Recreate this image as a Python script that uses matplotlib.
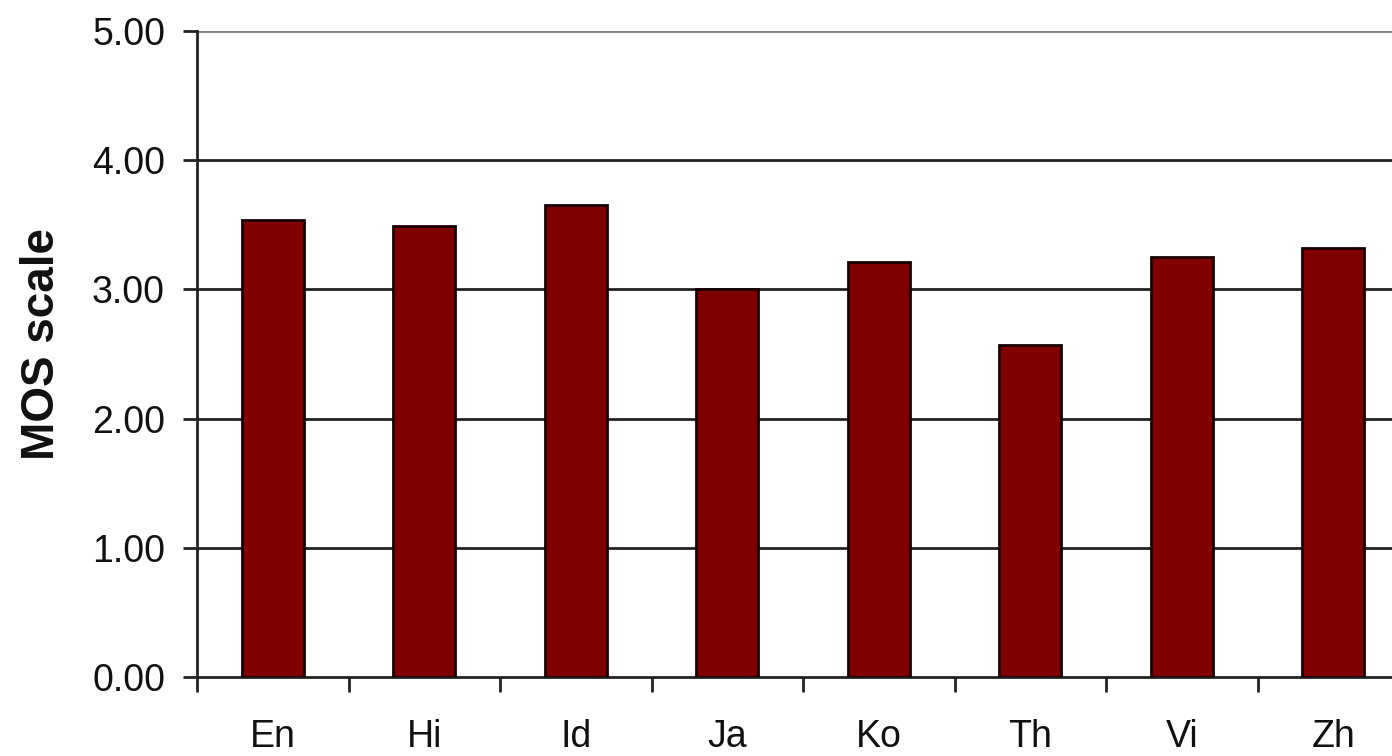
import matplotlib
matplotlib.use("Agg")
import matplotlib.pyplot as plt
import numpy as np

categories = ["En", "Hi", "Id", "Ja", "Ko", "Th", "Vi", "Zh"]
mos_values = [3.54, 3.49, 3.65, 3.00, 3.21, 2.57, 3.25, 3.32]
y_ticks = [0, 1, 2, 3, 4, 5]
y_tick_labels = ["0.00", "1.00", "2.00", "3.00", "4.00", "5.00"]

plt.rcParams['font.family'] = ['Liberation Sans', 'DejaVu Sans']

fig = plt.figure(figsize=(13.92, 7.56), dpi=100)
ax = fig.add_axes([197/1392, 79/756, (1409-197)/1392, (677-31)/756])

x = np.arange(len(categories))
ax.bar(x, mos_values, width=0.41, color="#800000", edgecolor="#1a0000",
       linewidth=2, zorder=3)

ax.set_xlim(-0.5, len(categories) - 0.5)
ax.set_ylim(0, 5)
ax.set_yticks(y_ticks)
ax.set_yticklabels(y_tick_labels)

for yv in y_ticks[1:]:
    col = "#808080" if yv == 5 else "#222222"
    ax.axhline(yv, color=col, linewidth=2, zorder=1)

# x ticks at category boundaries, labels at centers
ax.set_xticks(np.arange(len(categories) + 1) - 0.5)
ax.set_xticklabels([""] * (len(categories) + 1))
ax.set_xticks(x, minor=True)
ax.set_xticklabels(categories, minor=True)
ax.tick_params(axis="x", which="major", direction="out", length=11, width=2, color="#222222")
ax.tick_params(axis="x", which="minor", length=0, pad=30, labelsize=27, labelcolor="#111111")
ax.tick_params(axis="y", direction="out", length=10, width=2, color="#222222",
               pad=13, labelsize=27, labelcolor="#111111")

for s in ["top", "right"]:
    ax.spines[s].set_visible(False)
for s in ["left", "bottom"]:
    ax.spines[s].set_linewidth(2)
    ax.spines[s].set_color("#222222")

ax.set_ylabel("MOS scale", fontsize=33, fontweight="bold", color="#111111")
ax.yaxis.set_label_coords(-0.11, 0.515)

fig.savefig("out.png", dpi=100)
